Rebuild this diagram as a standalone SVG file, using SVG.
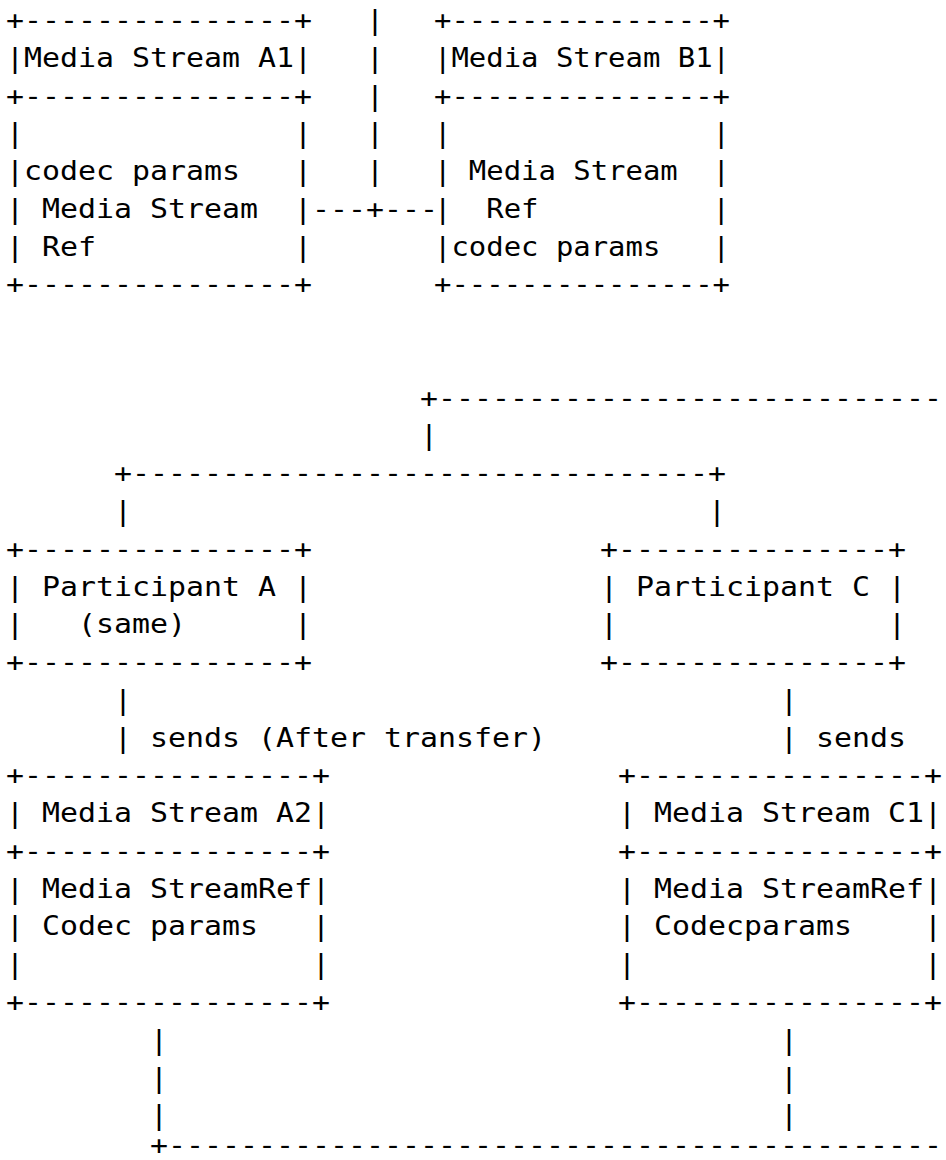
<svg xmlns="http://www.w3.org/2000/svg" width="946" height="1160" viewBox="0 0 946 1160" xml:space="preserve">
<style>
text{font-family:"DejaVu Sans Mono","Liberation Mono",monospace;font-size:26px;fill:#000;white-space:pre}
</style>
<rect width="946" height="1160" fill="#fff"/>
<g id="node-media-stream-a1">
<text x="6" y="29" textLength="306" lengthAdjust="spacingAndGlyphs">+---------------+</text>
<text x="6" y="66.77" textLength="306" lengthAdjust="spacingAndGlyphs">|Media Stream A1|</text>
<text x="6" y="104.54" textLength="306" lengthAdjust="spacingAndGlyphs">+---------------+</text>
<text x="6" y="142.31" textLength="306" lengthAdjust="spacingAndGlyphs">|               |</text>
<text x="6" y="180.08" textLength="306" lengthAdjust="spacingAndGlyphs">|codec params   |</text>
<text x="6" y="217.85" textLength="306" lengthAdjust="spacingAndGlyphs">| Media Stream  |</text>
<text x="6" y="255.62" textLength="306" lengthAdjust="spacingAndGlyphs">| Ref           |</text>
<text x="6" y="293.39" textLength="306" lengthAdjust="spacingAndGlyphs">+---------------+</text>
</g>
<g id="node-media-stream-b1">
<text x="434" y="29" textLength="296" lengthAdjust="spacingAndGlyphs">+---------------+</text>
<text x="434" y="66.77" textLength="296" lengthAdjust="spacingAndGlyphs">|Media Stream B1|</text>
<text x="434" y="104.54" textLength="296" lengthAdjust="spacingAndGlyphs">+---------------+</text>
<text x="434" y="142.31" textLength="296" lengthAdjust="spacingAndGlyphs">|               |</text>
<text x="434" y="180.08" textLength="296" lengthAdjust="spacingAndGlyphs">| Media Stream  |</text>
<text x="434" y="217.85" textLength="296" lengthAdjust="spacingAndGlyphs">|  Ref          |</text>
<text x="434" y="255.62" textLength="296" lengthAdjust="spacingAndGlyphs">|codec params   |</text>
<text x="434" y="293.39" textLength="296" lengthAdjust="spacingAndGlyphs">+---------------+</text>
</g>
<g id="node-participant-a">
<text x="6" y="557.78" textLength="306" lengthAdjust="spacingAndGlyphs">+---------------+</text>
<text x="6" y="595.55" textLength="306" lengthAdjust="spacingAndGlyphs">| Participant A |</text>
<text x="6" y="633.32" textLength="306" lengthAdjust="spacingAndGlyphs">|   (same)      |</text>
<text x="6" y="671.09" textLength="306" lengthAdjust="spacingAndGlyphs">+---------------+</text>
</g>
<g id="node-participant-c">
<text x="600" y="557.78" textLength="306" lengthAdjust="spacingAndGlyphs">+---------------+</text>
<text x="600" y="595.55" textLength="306" lengthAdjust="spacingAndGlyphs">| Participant C |</text>
<text x="600" y="633.32" textLength="306" lengthAdjust="spacingAndGlyphs">|               |</text>
<text x="600" y="671.09" textLength="306" lengthAdjust="spacingAndGlyphs">+---------------+</text>
</g>
<g id="node-media-stream-a2">
<text x="6" y="784.4" textLength="324" lengthAdjust="spacingAndGlyphs">+----------------+</text>
<text x="6" y="822.17" textLength="324" lengthAdjust="spacingAndGlyphs">| Media Stream A2|</text>
<text x="6" y="859.94" textLength="324" lengthAdjust="spacingAndGlyphs">+----------------+</text>
<text x="6" y="897.71" textLength="324" lengthAdjust="spacingAndGlyphs">| Media StreamRef|</text>
<text x="6" y="935.48" textLength="324" lengthAdjust="spacingAndGlyphs">| Codec params   |</text>
<text x="6" y="973.25" textLength="324" lengthAdjust="spacingAndGlyphs">|                |</text>
<text x="6" y="1011.02" textLength="324" lengthAdjust="spacingAndGlyphs">+----------------+</text>
</g>
<g id="node-media-stream-c1">
<text x="618" y="784.4" textLength="324" lengthAdjust="spacingAndGlyphs">+----------------+</text>
<text x="618" y="822.17" textLength="324" lengthAdjust="spacingAndGlyphs">| Media Stream C1|</text>
<text x="618" y="859.94" textLength="324" lengthAdjust="spacingAndGlyphs">+----------------+</text>
<text x="618" y="897.71" textLength="324" lengthAdjust="spacingAndGlyphs">| Media StreamRef|</text>
<text x="618" y="935.48" textLength="324" lengthAdjust="spacingAndGlyphs">| Codecparams    |</text>
<text x="618" y="973.25" textLength="324" lengthAdjust="spacingAndGlyphs">|                |</text>
<text x="618" y="1011.02" textLength="324" lengthAdjust="spacingAndGlyphs">+----------------+</text>
</g>
<g id="connectors">
<text x="366" y="29" textLength="18" lengthAdjust="spacingAndGlyphs">|</text>
<text x="366" y="66.77" textLength="18" lengthAdjust="spacingAndGlyphs">|</text>
<text x="366" y="104.54" textLength="18" lengthAdjust="spacingAndGlyphs">|</text>
<text x="366" y="142.31" textLength="18" lengthAdjust="spacingAndGlyphs">|</text>
<text x="366" y="180.08" textLength="18" lengthAdjust="spacingAndGlyphs">|</text>
<text x="312" y="217.85" textLength="126" lengthAdjust="spacingAndGlyphs">---+---</text>
<text x="420" y="406.7" textLength="522" lengthAdjust="spacingAndGlyphs">+----------------------------</text>
<text x="420" y="444.47" textLength="18" lengthAdjust="spacingAndGlyphs">|</text>
<text x="114" y="482.24" textLength="612" lengthAdjust="spacingAndGlyphs">+--------------------------------+</text>
<text x="114" y="520.01" textLength="18" lengthAdjust="spacingAndGlyphs">|</text>
<text x="708" y="520.01" textLength="18" lengthAdjust="spacingAndGlyphs">|</text>
<text x="114" y="708.86" textLength="18" lengthAdjust="spacingAndGlyphs">|</text>
<text x="780" y="708.86" textLength="18" lengthAdjust="spacingAndGlyphs">|</text>
<text x="114" y="746.63" textLength="18" lengthAdjust="spacingAndGlyphs">|</text>
<text x="150" y="746.63" textLength="396" lengthAdjust="spacingAndGlyphs">sends (After transfer)</text>
<text x="780" y="746.63" textLength="18" lengthAdjust="spacingAndGlyphs">|</text>
<text x="816" y="746.63" textLength="90" lengthAdjust="spacingAndGlyphs">sends</text>
<text x="150" y="1048.79" textLength="18" lengthAdjust="spacingAndGlyphs">|</text>
<text x="780" y="1048.79" textLength="18" lengthAdjust="spacingAndGlyphs">|</text>
<text x="150" y="1086.56" textLength="18" lengthAdjust="spacingAndGlyphs">|</text>
<text x="780" y="1086.56" textLength="18" lengthAdjust="spacingAndGlyphs">|</text>
<text x="150" y="1124.33" textLength="18" lengthAdjust="spacingAndGlyphs">|</text>
<text x="780" y="1124.33" textLength="18" lengthAdjust="spacingAndGlyphs">|</text>
<text x="150" y="1154" textLength="792" lengthAdjust="spacingAndGlyphs">+-------------------------------------------</text>
</g>
</svg>
